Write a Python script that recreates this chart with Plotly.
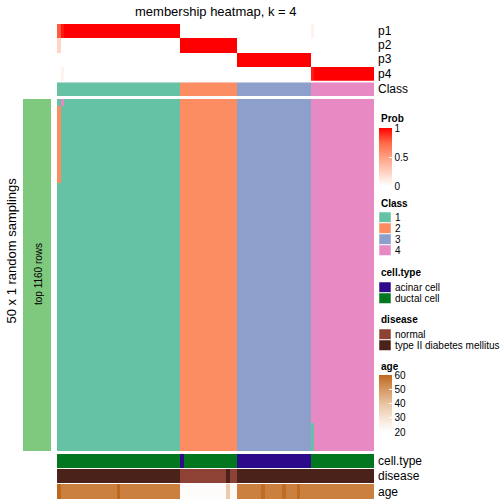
import plotly.graph_objects as go

# ---------------- data ----------------
n_samples = 90
n_samplings = 50

# consensus class of every sample (columns, left to right)
class_labels = [1] * 35 + [2] * 16 + [3] * 21 + [4] * 18

# membership probabilities p1..p4 per sample
p1 = [0.78, 0.94] + [1.0] * 33 + [0.0] * 16 + [0.0] * 21 + [0.06] + [0.0] * 17
p2 = [0.22, 0.0] + [0.0] * 33 + [1.0] * 16 + [0.0] * 21 + [0.0] * 18
p3 = [0.0, 0.0] + [0.0] * 33 + [0.0] * 16 + [1.0] * 21 + [0.0] * 18
p4 = [0.0, 0.06] + [0.0] * 33 + [0.0] * 16 + [0.0] * 21 + [0.94] + [1.0] * 17
prob_rows = ["p1", "p2", "p3", "p4"]

# samplings whose class differs from the consensus: (sample, first row, last row, class)
sampling_overrides = [
    (0, 1, 11, 2),
    (1, 0, 0, 4),
    (72, 0, 45, 4),
    (72, 46, 49, 1),
]

cell_type = (["ductal cell"] * 35 + ["acinar cell"] + ["ductal cell"] * 15
             + ["acinar cell"] * 21 + ["ductal cell"] * 18)
disease = (["type II diabetes mellitus"] * 35 + ["normal"] * 13
           + ["type II diabetes mellitus"] + ["normal"] * 2
           + ["type II diabetes mellitus"] * 39)
age = ([60] + [55] * 16 + [60] + [55] * 17
       + [21] * 13 + [38] + [22] * 2
       + [55] * 7 + [59] + [55] * 5 + [59] + [55] * 3 + [59] + [55] * 21)

class_names = ["1", "2", "3", "4"]
class_colors = ["#66C2A5", "#FC8D62", "#8DA0CB", "#E78AC3"]
cell_names = ["acinar cell", "ductal cell"]
cell_colors = ["#2D0A8A", "#02771F"]
disease_names = ["normal", "type II diabetes mellitus"]
disease_colors = ["#8E4236", "#4A2219"]
prob_ticks = [0, 0.5, 1]
age_ticks = [20, 30, 40, 50, 60]

# ---------------- helpers ----------------
W = H = 504


def px_x(p):
    return p / W


def px_y(p):
    return 1 - p / H


def discrete(colors):
    n = len(colors)
    s = []
    for i, c in enumerate(colors):
        s.append([i / n, c])
        s.append([(i + 1) / n, c])
    return s


prob_scale = [[0, "rgb(255,255,255)"], [0.25, "rgb(255,207,191)"],
              [0.5, "rgb(255,158,129)"], [0.75, "rgb(255,103,70)"],
              [1, "rgb(255,0,0)"]]
age_scale = [[0, "rgb(255,255,255)"], [0.25, "rgb(247,228,212)"],
             [0.5, "rgb(233,195,160)"], [0.75, "rgb(213,152,98)"],
             [1, "rgb(190,104,28)"]]

cols = list(range(n_samples))

# body matrix (samplings x samples)
body = [[class_labels[j] - 1 for j in cols] for _ in range(n_samplings)]
for col, r0, r1, cls in sampling_overrides:
    for r in range(r0, r1 + 1):
        body[r][col] = cls - 1

fig = go.Figure()

# membership probabilities
fig.add_trace(go.Heatmap(
    z=[p1, p2, p3, p4], x=cols, y=list(range(4)), xaxis="x", yaxis="y",
    colorscale=prob_scale, zmin=0, zmax=1, showscale=True,
    colorbar=dict(x=px_x(379), xanchor="left", y=px_y(128), yanchor="top",
                  len=58, lenmode="pixels", thickness=13, thicknessmode="pixels",
                  xpad=0, ypad=0, outlinewidth=0, tickvals=prob_ticks,
                  ticktext=[str(t) for t in prob_ticks], ticks="inside",
                  ticklen=3, tickcolor="white",
                  tickfont=dict(size=10, family="Liberation Sans", color="black")),
    hoverinfo="skip"))

# class row
fig.add_trace(go.Heatmap(
    z=[[c - 1 for c in class_labels]], x=cols, y=[0], xaxis="x", yaxis="y2",
    colorscale=discrete(class_colors), zmin=-0.5, zmax=3.5, showscale=False,
    hoverinfo="skip"))

# body: class in each random sampling
fig.add_trace(go.Heatmap(
    z=body, x=cols, y=list(range(n_samplings)), xaxis="x", yaxis="y3",
    colorscale=discrete(class_colors), zmin=-0.5, zmax=3.5, showscale=False,
    hoverinfo="skip"))

# cell type
fig.add_trace(go.Heatmap(
    z=[[cell_names.index(v) for v in cell_type]], x=cols, y=[0], xaxis="x", yaxis="y4",
    colorscale=discrete(cell_colors), zmin=-0.5, zmax=1.5, showscale=False,
    hoverinfo="skip"))

# disease
fig.add_trace(go.Heatmap(
    z=[[disease_names.index(v) for v in disease]], x=cols, y=[0], xaxis="x", yaxis="y5",
    colorscale=discrete(disease_colors), zmin=-0.5, zmax=1.5, showscale=False,
    hoverinfo="skip"))

# age
fig.add_trace(go.Heatmap(
    z=[age], x=cols, y=[0], xaxis="x", yaxis="y6",
    colorscale=age_scale, zmin=20, zmax=60, showscale=True,
    colorbar=dict(x=px_x(379), xanchor="left", y=px_y(375), yanchor="top",
                  len=57, lenmode="pixels", thickness=13, thicknessmode="pixels",
                  xpad=0, ypad=0, outlinewidth=0, tickvals=age_ticks,
                  ticks="inside", ticklen=3, tickcolor="white",
                  tickfont=dict(size=10, family="Liberation Sans", color="black")),
    hoverinfo="skip"))

# left row-group bar
fig.add_trace(go.Heatmap(
    z=[[0]], x=[0], y=[0], xaxis="x2", yaxis="y7",
    colorscale=[[0, "#7FC97F"], [1, "#7FC97F"]], showscale=False, hoverinfo="skip"))

hid = dict(visible=False, showgrid=False, zeroline=False, fixedrange=True)
fig.update_layout(
    width=W, height=H, margin=dict(l=0, r=0, t=0, b=0),
    paper_bgcolor="white", plot_bgcolor="white", showlegend=False,
    font=dict(family="Liberation Sans", color="black"),
    xaxis=dict(domain=[px_x(57), px_x(374)], range=[-0.5, n_samples - 0.5], **hid),
    xaxis2=dict(domain=[px_x(23), px_x(51)], range=[-0.5, 0.5], **hid),
    yaxis=dict(domain=[px_y(80.7), px_y(24)], range=[3.5, -0.5], anchor="x", **hid),
    yaxis2=dict(domain=[px_y(96), px_y(82.3)], range=[-0.5, 0.5], anchor="x", **hid),
    yaxis3=dict(domain=[px_y(451), px_y(99)], range=[n_samplings - 0.5, -0.5], anchor="x", **hid),
    yaxis4=dict(domain=[px_y(468), px_y(454)], range=[-0.5, 0.5], anchor="x", **hid),
    yaxis5=dict(domain=[px_y(483), px_y(469)], range=[-0.5, 0.5], anchor="x", **hid),
    yaxis6=dict(domain=[px_y(499), px_y(484)], range=[-0.5, 0.5], anchor="x", **hid),
    yaxis7=dict(domain=[px_y(451), px_y(99)], range=[-0.5, 0.5], anchor="x2", **hid),
)

ann = []


def text(x, y, s, size=12, xanchor="left", angle=0, bold=False):
    ann.append(dict(x=px_x(x), y=px_y(y), xref="paper", yref="paper",
                    text=("<b>%s</b>" % s) if bold else s, showarrow=False,
                    xanchor=xanchor, yanchor="middle", textangle=angle,
                    font=dict(size=size, family="Liberation Sans", color="black")))


text(215.5, 11.5, "membership heatmap, k = 4", size=13, xanchor="center")
for lbl, yy in zip(prob_rows + ["Class"], [31, 45, 59, 73.5, 89]):
    text(376, yy, lbl, size=12)
for lbl, yy in zip(["cell.type", "disease", "age"], [461, 476, 491.5]):
    text(376, yy, lbl, size=12)
text(11, 250.5, "50 x 1 random samplings", size=13, xanchor="center", angle=-90)
text(38, 274, "top 1160 rows", size=10, xanchor="center", angle=-90)

# legend titles
text(379, 118, "Prob", size=10, bold=True)
text(379, 203, "Class", size=10, bold=True)
text(379, 272, "cell.type", size=10, bold=True)
text(379, 319, "disease", size=10, bold=True)
text(379, 366, "age", size=10, bold=True)

shapes = []


def legend_boxes(top, names, colors):
    for i, (nm, c) in enumerate(zip(names, colors)):
        y0 = top + i * 11
        shapes.append(dict(type="rect", xref="paper", yref="paper",
                           x0=px_x(379), x1=px_x(391), y0=px_y(y0 + 10.5), y1=px_y(y0),
                           fillcolor=c, line=dict(color="white", width=0.5)))
        text(393, y0 + 5.5, nm, size=10)


legend_boxes(212, class_names, class_colors)
legend_boxes(282, cell_names, cell_colors)
legend_boxes(329, disease_names, disease_colors)

fig.update_layout(annotations=ann, shapes=shapes)
fig.write_html("out.html", config={"displayModeBar": False})

# remove the browser's default page margin so the figure sits at the window origin
with open("out.html", encoding="utf-8") as f:
    html = f.read()
html = html.replace("<body>", '<body style="margin:0;padding:0;overflow:hidden;">', 1)
with open("out.html", "w", encoding="utf-8") as f:
    f.write(html)
